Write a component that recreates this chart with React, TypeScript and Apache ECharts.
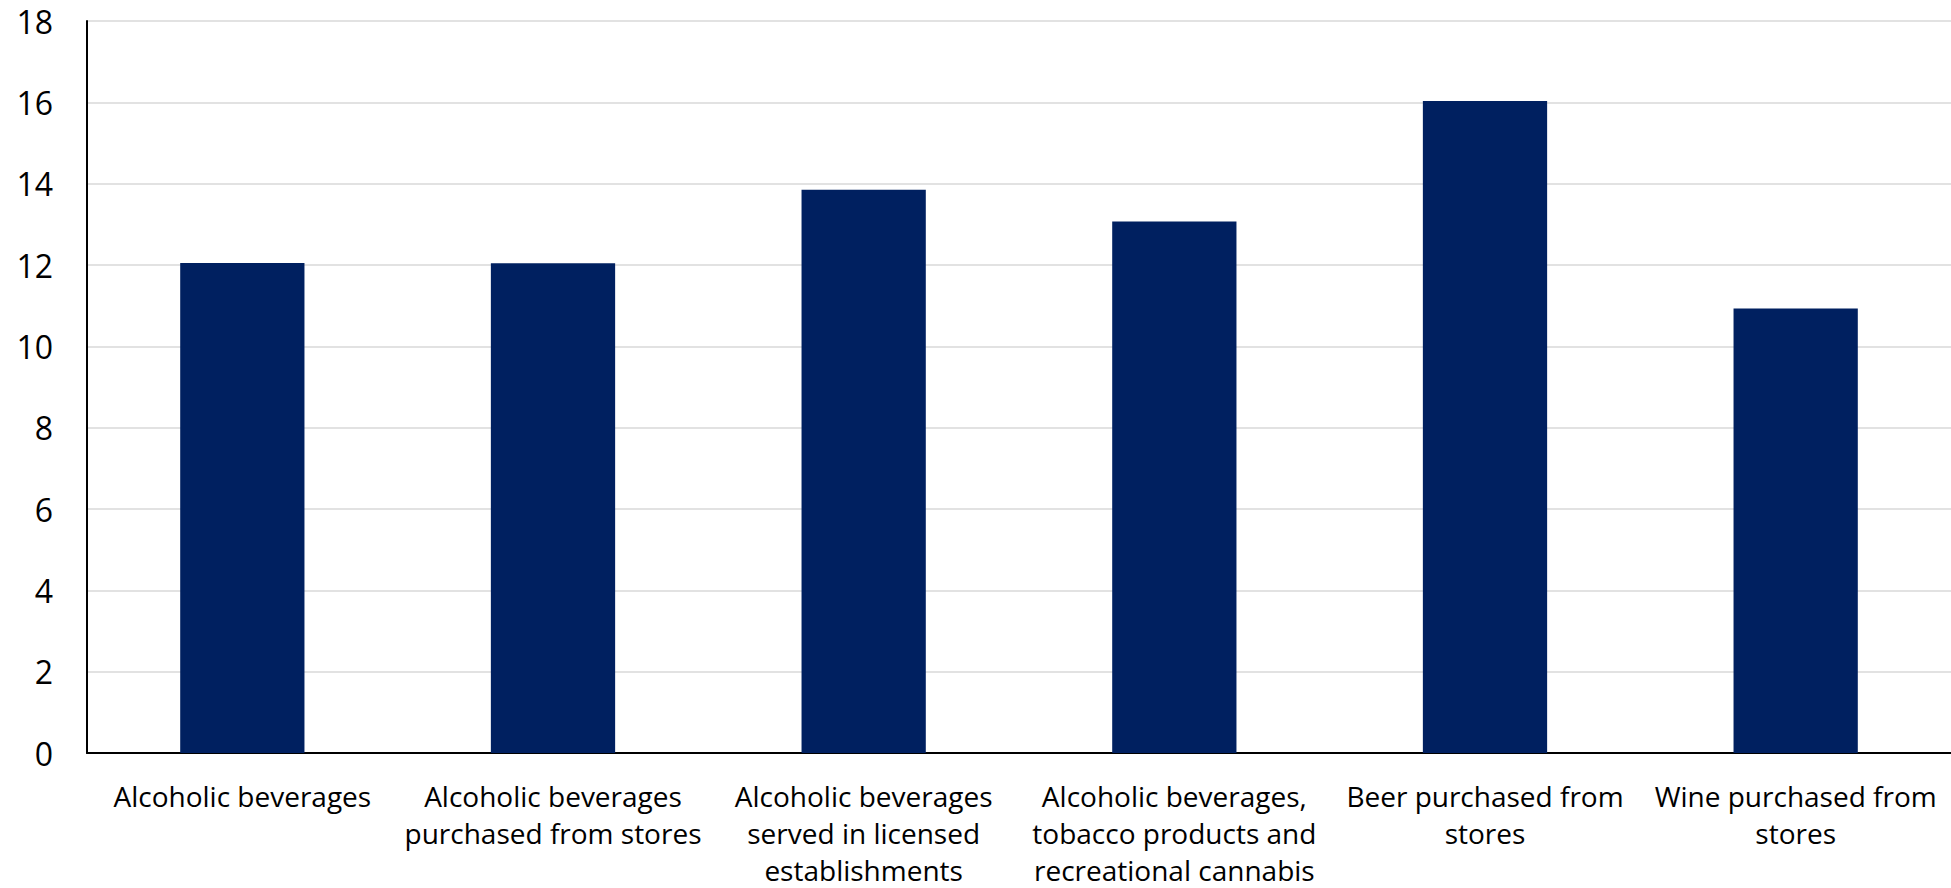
import React, { useEffect, useRef } from "react";
import * as echarts from "echarts";

const categories = [
  "Alcoholic beverages",
  "Alcoholic beverages\npurchased from stores",
  "Alcoholic beverages\nserved in licensed\nestablishments",
  "Alcoholic beverages,\ntobacco products and\nrecreational cannabis",
  "Beer purchased from\nstores",
  "Wine purchased from\nstores",
];
const values = [12.05, 12.04, 13.85, 13.07, 16.03, 10.93];
const yMin = 0;
const yMax = 18;
const yStep = 2;

export default function App() {
  const ref = useRef<HTMLDivElement>(null);
  useEffect(() => {
    document.body.style.margin = "0";
    const chart = echarts.init(ref.current!, null, { renderer: "svg" });
    chart.setOption({
      animation: false,
      backgroundColor: "#ffffff",
      grid: { left: 87, right: 0, top: 21, bottom: 129, containLabel: false },
      xAxis: {
        type: "category",
        data: categories,
        axisLine: { lineStyle: { color: "#000000", width: 2 } },
        axisTick: { show: false },
        axisLabel: {
          color: "#000000",
          fontFamily: "'Open Sans', sans-serif",
          fontSize: 28,
          lineHeight: 37,
          margin: 24,
          interval: 0,
        },
      },
      yAxis: {
        type: "value",
        min: yMin,
        max: yMax,
        interval: yStep,
        axisLine: { show: true, lineStyle: { color: "#000000", width: 2 } },
        axisTick: { show: false },
        splitLine: { lineStyle: { color: "#d9d9d9", width: 1.5 } },
        axisLabel: {
          color: "#000000",
          fontFamily: "'Open Sans', sans-serif",
          fontSize: 32,
          margin: 34,
        },
      },
      series: [
        {
          type: "bar",
          data: values,
          barWidth: "40%",
          itemStyle: { color: "#002060" },
        },
      ],
    });
    return () => chart.dispose();
  }, []);
  return <div ref={ref} style={{ width: 1951, height: 888 }} />;
}
